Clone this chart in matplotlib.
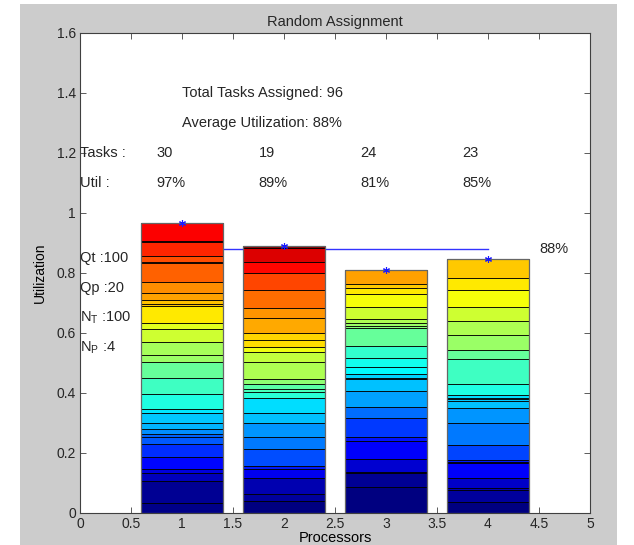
import numpy as np
import matplotlib.pyplot as plt
from matplotlib.colors import LinearSegmentedColormap
from matplotlib.patches import Rectangle

# Utilization of every task on each processor, stacked in task order
proc1_util = [0.032, 0.076, 0.024, 0.014, 0.042, 0.041, 0.023, 0.011, 0.017, 0.019,
              0.033, 0.015, 0.050, 0.054, 0.051, 0.024, 0.043, 0.043, 0.022, 0.056,
              0.006, 0.014, 0.022, 0.037, 0.063, 0.006, 0.020, 0.045, 0.004, 0.061]
proc1_tasks = [2, 3, 7, 10, 14, 18, 22, 23, 27, 31, 33, 36, 41, 44, 48, 53, 54, 58, 60, 65,
               68, 69, 72, 74, 78, 79, 80, 84, 85, 88]

proc2_util = [0.041, 0.021, 0.054, 0.030, 0.011, 0.055, 0.042, 0.045, 0.035, 0.048,
              0.020, 0.010, 0.018, 0.016, 0.058, 0.032, 0.016, 0.025, 0.022, 0.050,
              0.033, 0.061, 0.058, 0.037, 0.044, 0.008]
proc2_tasks = [1, 4, 6, 12, 16, 21, 25, 28, 32, 35, 42, 45, 47, 52, 55, 57, 61, 66, 67, 71,
               73, 77, 81, 87, 91, 99]

proc3_util = [0.086, 0.046, 0.006, 0.042, 0.061, 0.013, 0.062, 0.038, 0.054, 0.039,
              0.004, 0.011, 0.026, 0.030, 0.040, 0.058, 0.008, 0.008, 0.014, 0.042,
              0.041, 0.022, 0.011, 0.048]
proc3_tasks = [1, 3, 5, 9, 13, 15, 19, 24, 29, 32, 33, 34, 38, 40, 43, 48, 51, 53, 55, 58,
               62, 65, 68, 72]

proc4_util = [0.038, 0.039, 0.005, 0.034, 0.050, 0.004, 0.007, 0.050, 0.072, 0.050,
              0.025, 0.006, 0.004, 0.009, 0.037, 0.082, 0.031, 0.050, 0.048, 0.047,
              0.055, 0.041, 0.062]
proc4_tasks = [1, 4, 6, 8, 13, 14, 16, 20, 25, 28, 32, 33, 34, 35, 41, 44, 48, 53, 55, 58,
               62, 65, 68]

processors = [1, 2, 3, 4]
task_counts = [30, 19, 24, 23]
util_labels = ['97%', '89%', '81%', '85%']
total_tasks = 96
n_tasks = 100
params = ['Qt :100', 'Qp :20', r'N$_\mathregular{T}$ :100', r'N$_\mathregular{P}$ :4']

plt.rcParams['font.family'] = ['Liberation Sans', 'DejaVu Sans']
plt.rcParams['font.size'] = 10.5
plt.rcParams['text.color'] = '#262626'

# MATLAB style jet colormap
jet = LinearSegmentedColormap.from_list('mjet', [
    (0.0, (0, 0, 0.5)), (0.125, (0, 0, 1)), (0.375, (0, 1, 1)),
    (0.625, (1, 1, 0)), (0.875, (1, 0, 0)), (1.0, (0.5, 0, 0))])

fig = plt.figure(figsize=(6.34, 5.45), dpi=100)
# grey window background
fig.patches.append(Rectangle((20 / 634, 0), 597 / 634, 541 / 545, transform=fig.transFigure,
                             facecolor='#cccccc', edgecolor='none', zorder=-10))
ax = fig.add_axes([80 / 634, 32 / 545, 510 / 634, 480 / 545])

utils = [proc1_util, proc2_util, proc3_util, proc4_util]
tasks = [proc1_tasks, proc2_tasks, proc3_tasks, proc4_tasks]

totals = []
for p, u, t in zip(processors, utils, tasks):
    bottoms = np.concatenate([[0], np.cumsum(u)[:-1]])
    colors = [jet((k - 1) / (n_tasks - 1)) for k in t]
    ax.bar([p] * len(u), u, width=0.8, bottom=bottoms, color=colors,
           edgecolor='black', linewidth=0.6, zorder=3)
    # outer outline of the stack
    ax.bar(p, sum(u), width=0.8, fill=False, edgecolor='#666666', linewidth=0.9, zorder=4)
    totals.append(sum(u))

avg = np.mean(totals)
ax.plot([1, 4], [avg, avg], color='#3333ff', linewidth=1.0, zorder=2)
ax.plot(processors, totals, linestyle='none', marker=(6, 2, 0), markersize=5,
        markeredgewidth=0.8, color='#1a1aff', zorder=5)
ax.text(4.5, avg + 0.002, '%d%%' % round(avg * 100), va='center', ha='left')

ax.text(1.0, 1.4, 'Total Tasks Assigned: %d' % total_tasks, va='center')
ax.text(1.0, 1.3, 'Average Utilization: %d%%' % round(avg * 100), va='center')
ax.text(0.0, 1.2, 'Tasks :', va='center')
ax.text(0.0, 1.1, 'Util :', va='center')
for p, n, lab in zip(processors, task_counts, util_labels):
    ax.text(p - 0.25, 1.2, str(n), va='center')
    ax.text(p - 0.25, 1.1, lab, va='center')
for i, s in enumerate(params):
    ax.text(0.0, 0.85 - 0.1 * i, s, va='center')

ax.set_xlim(0, 5)
ax.set_ylim(0, 1.6)
ax.set_xticks(np.arange(0, 5.01, 0.5))
ax.set_xticklabels(['0', '0.5', '1', '1.5', '2', '2.5', '3', '3.5', '4', '4.5', '5'])
ax.set_yticks(np.arange(0, 1.61, 0.2))
ax.set_yticklabels(['0', '0.2', '0.4', '0.6', '0.8', '1', '1.2', '1.4', '1.6'])
ax.tick_params(direction='in', top=True, right=True, length=4, width=0.6, colors='#404040',
               labelcolor='#262626', labelsize=10, pad=3)
for s in ax.spines.values():
    s.set_color('#404040')
    s.set_linewidth(0.8)

ax.set_title('Random Assignment', fontsize=10.5, pad=5)
ax.set_xlabel('Processors', labelpad=0)
ax.set_ylabel('Utilization', fontsize=10, labelpad=7)

fig.savefig('out.png', dpi=100)
